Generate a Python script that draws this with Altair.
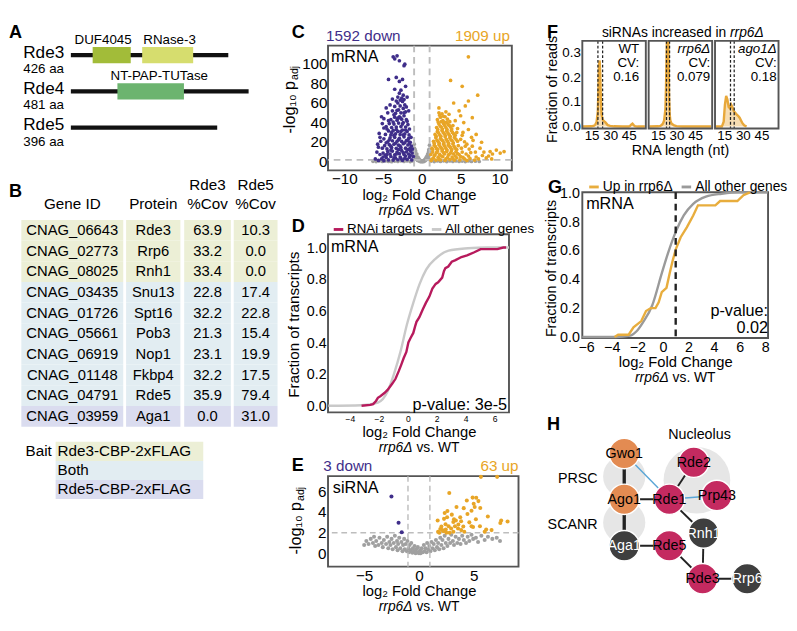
import altair as alt
import pandas as pd

FONT = "Liberation Sans"
ONE = pd.DataFrame({"k": [0]})

# ---------------- data ----------------
# A: protein architecture
prot_names = ["Rde3", "Rde4", "Rde5"]
prot_len = [426, 481, 396]
dom_prot = ["Rde3", "Rde3", "Rde4"]
dom_names = ["DUF4045", "RNase-3", "NT-PAP-TUTase"]
dom_start = [59, 193, 126]
dom_end = [162, 331, 306]

# B: IP-MS table
gene_ids = ["CNAG_06643", "CNAG_02773", "CNAG_08025", "CNAG_03435", "CNAG_01726",
            "CNAG_05661", "CNAG_06919", "CNAG_01148", "CNAG_04791", "CNAG_03959"]
proteins = ["Rde3", "Rrp6", "Rnh1", "Snu13", "Spt16", "Pob3", "Nop1", "Fkbp4", "Rde5", "Aga1"]
rde3_cov = [63.9, 33.2, 33.4, 22.8, 32.2, 21.3, 23.1, 32.2, 35.9, 0.0]
rde5_cov = [10.3, 0.0, 0.0, 17.4, 22.8, 15.4, 19.9, 17.5, 79.4, 31.0]
bait = ["Rde3", "Rde3", "Rde3", "Both", "Both", "Both", "Both", "Both", "Both", "Rde5"]
bait_keys = ["Rde3", "Both", "Rde5"]
bait_labels = ["Rde3-CBP-2xFLAG", "Both", "Rde5-CBP-2xFLAG"]

# C: mRNA volcano (log2FC, -log10 padj)
c_down = [(-5.6,1.5),(-5.2,3.0),(-4.9,1.2),(-4.6,4.5),(-4.3,2.0),(-4.0,5.5),(-3.7,1.8),(-3.4,4.0),(-3.1,2.2),(-2.8,5.0),(-2.5,1.6),(-2.2,3.8),(-1.9,2.4),(-1.6,4.6),(-1.3,2.0),(-1.1,5.5),
(-5.4,7.5),(-5.0,9.0),(-4.7,6.8),(-4.4,10.5),(-4.1,8.0),(-3.8,11.0),(-3.5,7.2),(-3.2,10.0),(-2.9,8.4),(-2.6,11.5),(-2.3,7.6),(-2.0,10.2),(-1.7,8.0),(-1.45,11.0),(-1.25,9.0),
(-5.1,14.0),(-4.8,16.5),(-4.5,13.2),(-4.2,17.5),(-3.9,14.6),(-3.6,18.0),(-3.3,13.8),(-3.0,17.0),(-2.7,14.5),(-2.4,18.5),(-2.1,14.0),(-1.8,17.2),(-1.55,13.5),(-1.35,16.0),
(-5.3,21.0),(-4.9,23.5),(-4.4,20.5),(-4.1,24.5),(-3.8,21.5),(-3.5,25.0),(-3.2,21.0),(-2.9,24.0),(-2.6,20.8),(-2.3,25.5),(-2.0,21.8),(-1.7,24.0),(-1.5,20.0),
(-5.5,29.0),(-4.7,28.0),(-4.3,31.5),(-4.0,27.5),(-3.7,32.0),(-3.4,28.5),(-3.1,31.0),(-2.8,27.8),(-2.5,32.5),(-2.2,28.5),(-1.9,31.0),(-1.65,27.5),
(-4.6,36.0),(-4.2,39.0),(-3.9,35.0),(-3.6,38.5),(-3.3,35.5),(-3.0,39.5),(-2.7,36.0),(-2.4,40.0),(-2.1,35.5),(-1.8,38.0),
(-4.9,44.0),(-4.0,43.0),(-3.5,45.5),(-3.2,42.5),(-2.9,46.0),(-2.6,43.5),(-2.3,47.0),(-2.0,43.0),
(-5.2,46.0),(-4.4,50.0),(-3.8,52.0),(-3.4,49.5),(-3.0,53.0),(-2.7,50.0),(-2.4,54.5),(-2.1,51.0),(-1.7,52.0),
(-4.6,55.0),(-3.5,56.5),(-3.1,60.0),(-2.8,57.0),(-2.5,61.5),(-2.2,58.0),(-4.1,58.0),
(-2.8,63.0),(-3.1,66.0),(-2.4,68.0),(-1.9,66.0),(-2.6,65.0),(-3.5,74.0),(-2.7,73.0),(-2.1,77.0),
(-4.3,84.0),(-3.3,86.0),(-2.9,82.0),(-2.5,84.0),(-3.7,107.0),(-3.2,108.0),(-3.5,105.0),(-2.9,103.0),(-2.3,98.0),(-2.2,99.5),
(-5.8,10.0),(-6.0,3.0),(-5.7,18.0),
(-5.0,5.0),(-4.5,7.5),(-4.0,12.0),(-3.6,4.0),(-3.3,8.0),(-3.0,12.5),(-2.7,3.5),(-2.4,9.5),(-2.1,6.0),(-1.8,12.5),(-1.5,6.5),(-1.2,13.0),
(-4.6,19.5),(-4.0,16.0),(-3.4,19.0),(-2.8,16.0),(-2.2,19.5),(-1.6,18.5),(-4.2,22.5),(-3.6,27.0),(-3.0,22.5),(-2.4,27.5),(-1.8,21.5),(-1.4,25.0),
(-4.5,33.5),(-3.9,30.0),(-3.3,33.0),(-2.7,31.0),(-2.1,32.5),(-1.6,33.5),(-4.3,42.0),(-3.7,40.5),(-3.1,44.5),(-2.5,38.5),(-1.9,41.5),
(-3.6,48.0),(-3.2,52.5),(-2.8,45.0),(-2.3,50.0),(-4.9,34.5),(-5.1,39.0),(-5.4,25.0),(-5.6,15.0),(-2.0,56.0),(-3.3,62.0),(-2.3,63.5),(-3.8,64.0),(-2.9,70.0)]
c_up = [(1.2,1.5),(1.5,4.0),(1.8,1.8),(2.1,4.8),(2.4,2.0),(2.7,5.2),(3.0,1.6),(3.3,4.4),(3.6,2.3),(3.9,5.0),(4.2,1.8),(4.5,4.2),(4.9,2.0),(5.3,4.5),(5.8,1.5),(6.2,3.5),(6.8,1.8),(7.3,3.0),
(1.15,7.5),(1.4,10.0),(1.7,7.2),(2.0,10.8),(2.3,7.6),(2.6,11.2),(2.9,8.0),(3.2,10.5),(3.5,7.4),(3.8,11.0),(4.1,8.2),(4.4,10.6),(4.8,7.5),(5.2,10.0),(5.7,8.0),(6.3,9.5),
(1.3,14.0),(1.6,17.0),(1.9,13.5),(2.2,17.5),(2.5,14.2),(2.8,18.0),(3.1,13.8),(3.4,17.2),(3.7,14.5),(4.0,18.2),(4.3,14.0),(4.7,16.5),(5.1,14.0),(5.6,16.0),(6.1,13.0),
(1.5,21.0),(1.8,24.5),(2.1,20.8),(2.4,24.0),(2.7,21.5),(3.0,25.5),(3.3,21.0),(3.6,24.5),(3.9,21.8),(4.2,25.0),(4.6,21.0),(5.0,23.0),(5.5,20.5),
(1.7,28.0),(2.0,31.0),(2.3,27.5),(2.6,32.0),(2.9,28.5),(3.2,31.5),(3.5,28.0),(3.8,32.0),(4.1,28.5),(4.5,30.0),(5.2,27.0),
(1.9,35.0),(2.2,38.5),(2.5,35.5),(2.8,39.0),(3.1,35.0),(3.4,38.0),(3.7,35.5),(4.0,37.0),(4.6,34.0),
(2.0,43.0),(2.4,45.5),(2.7,42.0),(3.0,46.0),(3.3,43.5),(3.6,41.0),(4.3,42.0),(2.2,50.0),(2.6,49.0),(3.1,51.0),(2.2,55.0),(3.5,48.5),
(3.7,83.0),(5.2,77.0),(7.2,68.0),(6.0,107.0),(6.0,62.0),(5.6,57.0),(4.8,52.0),(4.1,60.0),(6.5,45.0),(5.4,40.0),(6.0,33.0),(7.0,28.0),(6.6,22.0),(7.5,14.0),(8.0,10.0),(8.6,6.0),(9.1,8.0),(9.6,12.0),(10.1,9.0),(10.6,10.5),(8.3,4.0),(7.8,6.5),(9.0,3.0),(5.0,47.0),
(1.3,2.8),(1.6,6.5),(1.9,9.5),(2.2,2.5),(2.5,6.0),(2.8,9.5),(3.1,3.0),(3.4,7.0),(3.7,9.0),(4.0,3.2),(4.3,6.0),(4.6,8.5),(5.0,5.5),(5.5,3.0),(6.0,6.0),
(1.4,12.5),(1.75,15.5),(2.05,12.5),(2.35,15.5),(2.65,12.5),(2.95,16.0),(3.25,12.0),(3.55,16.0),(3.85,12.5),(4.15,15.8),(4.5,12.5),
(1.6,19.0),(1.95,22.0),(2.25,19.0),(2.55,22.5),(2.85,19.5),(3.15,23.0),(3.45,19.0),(3.75,22.5),(4.05,19.5),(4.4,23.0),
(1.85,26.0),(2.15,29.5),(2.45,26.0),(2.75,30.0),(3.05,26.5),(3.35,29.5),(3.65,26.0),(3.95,30.0),(4.3,27.0),
(2.05,33.0),(2.35,36.5),(2.65,33.5),(2.95,37.0),(3.25,33.0),(3.55,37.0),(3.85,33.5),(2.1,40.5),(2.5,41.0),(2.9,40.5),(3.2,40.0),(2.3,47.5),(2.8,46.5),
(5.8,18.0),(6.4,25.0),(5.3,30.0),(6.9,10.0),(7.7,20.0),(7.0,5.0),(8.8,10.5),(6.5,16.0)]
c_ns = [(-0.95,14),(-0.9,9),(-0.85,4),(-0.8,11),(-0.75,6),(-0.7,2.5),(-0.65,8),(-0.6,4),(-0.55,1.5),(-0.5,5),(-0.45,2.5),(-0.4,3.5),(-0.35,1),(-0.3,2),(-0.25,0.5),(-0.2,1.5),(-0.15,0.3),(-0.1,0.8),(0.0,0.2),(0.1,0.7),(0.15,0.2),(0.2,1.4),(0.3,0.6),(0.35,2.2),(0.4,1.2),(0.45,3.2),(0.5,1.8),(0.55,4.5),(0.6,2.5),(0.65,6),(0.7,3.5),(0.75,8),(0.8,5),(0.85,10),(0.9,6.5),(0.95,13),(-0.98,18),(0.98,17),(-0.92,6),(0.92,3),
(-0.97,10.5),(-0.88,12.5),(-0.78,8.5),(0.78,7),(0.88,12),(0.97,10),(-0.7,5),(0.68,4.5),
(-6.3,0.6),(-5.9,0.3),(-5.5,0.9),(-5.1,0.4),(-4.7,1.0),(-4.3,0.5),(-3.9,0.2),(-3.5,0.8),(-3.1,0.4),(-2.7,1.1),(-2.3,0.5),(-1.9,0.9),(-1.5,0.3),(-1.2,1.0),(1.2,0.8),(1.6,0.3),(2.0,1.0),(2.4,0.5),(2.8,1.1),(3.2,0.3),(3.6,0.9),(4.0,0.5),(4.4,1.0),(4.8,0.4),(5.2,0.8),(5.6,0.3),(6.0,0.9),(6.4,0.5),(6.9,0.7),(7.4,0.4)]

# D: CDF of log2FC (mRNA)
d_rnai_x = [-3.2,-2.6,-2.4,-2.2,-2.07,-1.9,-1.62,-1.4,-1.07,-0.85,-0.62,-0.45,-0.29,-0.1,0.04,0.2,0.38,0.5,0.6,0.8,1.04,1.25,1.49,1.7,1.93,2.1,2.38,2.5,2.6,2.8,3.04,3.3,3.71,4.1,4.6,5.04,5.3,5.7,6.2,6.6,6.8]
d_rnai_y = [0.0,0.005,0.01,0.03,0.05,0.06,0.08,0.1,0.14,0.17,0.22,0.26,0.3,0.34,0.4,0.43,0.46,0.5,0.53,0.56,0.61,0.65,0.69,0.74,0.77,0.78,0.81,0.85,0.87,0.88,0.91,0.92,0.94,0.95,0.97,0.99,0.99,0.99,0.99,1.0,1.0]
d_other_x = [-5.5,-3.2,-2.07,-1.4,-0.96,-0.51,-0.07,0.38,0.82,1.27,1.93,2.82,4.16,5.5,7.0]
d_other_y = [0.0,0.003,0.02,0.09,0.2,0.34,0.51,0.65,0.77,0.86,0.93,0.98,0.995,1.0,1.0]

# E: siRNA volcano
e_down = [(-2.51,5.5),(-1.86,2.97),(-1.57,2.05)]
e_up = [(5.66,7.41),(7.14,7.41),(2.77,5.84),(4.37,5.13),(5.23,5.38),(5.43,5.06),(5.09,4.5),(3.43,4.5),(4.09,4.38),(4.8,4.13),(4.43,3.81),(3.77,3.5),(3.0,3.75),(2.57,3.5),(2.29,3.34),(6.29,3.56),(7.51,3.19),(8.09,3.09),(3.14,3.03),(3.37,3.19),(2.43,2.81),(2.71,2.63),(2.94,2.41),(3.29,2.63),(3.57,2.41),(3.86,2.25),(2.14,2.25),(1.86,2.0),(2.51,2.0),(2.8,2.0),(3.14,2.09),(4.8,2.63),(4.94,2.56),(5.57,2.63),(6.14,2.31),(6.63,2.25),(7.43,2.94),(4.14,2.09),(1.71,3.19),
(2.35,3.9),(2.6,4.1),(3.2,3.3),(2.05,2.6),(1.95,2.35),(2.25,2.15),(3.6,2.8),(4.05,2.6),(4.6,3.0),(5.2,3.3),(5.0,4.8),(4.9,5.4),(5.6,4.4),(6.0,2.1),(3.85,3.1),(2.45,2.3),(1.75,2.1)]
e_ns = [(-5.0,0.8),(-4.8,1.2),(-4.6,0.9),(-4.4,1.4),(-4.2,1.0),(-4.0,0.7),(-4.1,1.6),
(-3.9,1.2),(-3.7,0.8),(-3.6,1.5),(-3.4,1.0),(-3.3,0.6),(-3.2,1.3),(-3.0,0.9),
(-2.9,1.6),(-2.8,0.5),(-2.7,1.1),(-2.6,0.8),(-2.5,1.4),(-2.4,0.4),(-2.3,1.0),(-2.2,1.7),(-2.1,0.6),(-2.0,1.2),
(-1.95,0.3),(-1.9,0.9),(-1.8,1.5),(-1.7,0.5),(-1.6,1.1),(-1.5,0.2),(-1.45,0.8),(-1.35,1.4),(-1.3,0.4),(-1.2,0.9),(-1.1,0.2),(-1.05,1.2),
(-0.95,0.5),(-0.9,0.1),(-0.85,0.8),(-0.75,0.3),(-0.7,1.0),(-0.6,0.05),(-0.55,0.5),(-0.45,0.2),(-0.4,0.7),(-0.3,0.0),(-0.25,0.4),(-0.15,0.1),(-0.1,0.6),(0.0,0.0),
(0.1,0.3),(0.15,0.0),(0.25,0.5),(0.35,0.1),(0.45,0.8),(0.5,0.2),(0.6,0.5),(0.7,0.1),(0.75,1.0),(0.85,0.4),(0.95,0.7),
(1.05,0.2),(1.15,1.1),(1.25,0.5),(1.35,0.9),(1.45,0.3),(1.55,1.3),(1.65,0.6),(1.75,1.0),(1.85,0.4),(1.95,1.5),
(2.05,0.8),(2.15,1.3),(2.25,0.5),(2.35,1.7),(2.45,1.0),(2.6,0.7),(2.7,1.4),(2.85,1.0),(2.95,1.8),
(3.1,1.2),(3.2,0.8),(3.35,1.6),(3.5,1.0),(3.65,1.4),(3.8,0.9),(3.95,1.7),
(4.1,1.3),(4.3,1.0),(4.45,1.6),(4.6,1.2),(4.8,1.8),(4.95,1.4),
(5.2,1.5),(5.4,1.1),(5.7,1.7),(6.0,1.3),(6.3,1.6),(6.7,1.4),(7.1,1.5),(7.4,1.2)]

# F: siRNA length distributions
f_names = ["WT", "rrp6Δ", "ago1Δ"]
f_cv = ["0.16", "0.079", "0.18"]
f_len = [
    [8, 15, 17, 18, 19, 20, 20.5, 21, 21.5, 22, 22.5, 23, 24, 25, 26, 27, 28, 30, 33, 40, 45, 46, 47, 48, 49, 50, 52, 58],
    [8, 15, 17, 18, 19, 20, 21, 21.5, 22, 22.5, 23, 23.5, 24, 24.5, 25, 26, 28, 30, 35, 45, 58],
    [8, 13, 14.5, 15.5, 16.5, 17.5, 18.5, 19.5, 20.5, 21.5, 22.5, 23.5, 24.5, 25.5, 26.5, 27.5, 28.5, 29.5, 31, 33],
]
f_frac = [
    [0, 0.001, 0.004, 0.008, 0.018, 0.06, 0.15, 0.25, 0.27, 0.22, 0.11, 0.05, 0.028, 0.022, 0.018, 0.012, 0.006, 0.003, 0.001, 0, 0, 0.002, 0.008, 0.012, 0.006, 0.002, 0, 0],
    [0, 0.001, 0.003, 0.006, 0.012, 0.025, 0.07, 0.16, 0.3, 0.42, 0.45, 0.32, 0.12, 0.05, 0.025, 0.012, 0.005, 0.002, 0, 0, 0],
    [0, 0, 0.02, 0.09, 0.125, 0.11, 0.08, 0.075, 0.09, 0.08, 0.065, 0.058, 0.052, 0.047, 0.042, 0.035, 0.025, 0.015, 0.005, 0],
]
f_marks = [[20.1, 23.9], [21.9, 24.4], [20.0, 23.0]]

# G: CDF of log2FC for genes with increased siRNAs
g_up_x = [-3.78,-3.5,-2.68,-2.3,-1.69,-1.32,-0.95,-0.58,-0.33,-0.09,0.28,0.53,0.77,1.02,1.39,1.88,2.37,2.74,4.1,4.47,5.82,6.3,6.8]
g_up_y = [0.0,0.016,0.016,0.067,0.11,0.18,0.2,0.2,0.24,0.31,0.34,0.44,0.53,0.61,0.69,0.76,0.84,0.91,0.91,0.94,0.94,0.98,1.0]
g_other_x = [-6.3,-3.7,-2.55,-2.06,-1.57,-0.83,-0.09,0.4,1.02,1.63,2.37,3.36,4.6,6.0,8.2]
g_other_y = [0.0,0.0,0.01,0.04,0.1,0.22,0.44,0.58,0.73,0.84,0.92,0.97,0.99,1.0,1.0]

# H: interaction network (layout units)
node_names = ["Gwo1", "Ago1", "Aga1", "Rde1", "Rde2", "Prp43", "Rnh1", "Rde5", "Rde3", "Rrp6"]
node_x = [4.4, 4.4, 4.4, 9.13, 11.7, 14.13, 12.73, 9.13, 12.63, 17.3]
node_y = [5.43, 10.23, 15.1, 10.23, 6.33, 9.83, 13.77, 15.1, 18.57, 18.57]
node_group = ["orange", "orange", "dark", "crimson", "crimson", "crimson", "dark", "crimson", "crimson", "dark"]
edges = [("Gwo1", "Ago1", "thick"), ("Ago1", "Aga1", "thick"), ("Ago1", "Rde1", "thin"),
         ("Gwo1", "Rde1", "blue"), ("Rde1", "Rde2", "thin"), ("Rde1", "Prp43", "blue"),
         ("Rde1", "Rnh1", "thin"), ("Aga1", "Rde5", "thin"), ("Rde5", "Rde3", "thin"),
         ("Rnh1", "Rde3", "thin"), ("Rde3", "Rrp6", "thin")]
cplx_names = ["PRSC", "SCANR", "Nucleolus"]
cplx_x = [4.4, 4.4, 12.03]
cplx_y = [7.83, 12.67, 8.23]
cplx_big = [False, False, True]
cplx_lab_x = [1.6, 1.6, 12.3]
cplx_lab_y = [8.0, 12.8, 3.4]

# ---------------- styles ----------------
PURPLE = "#3F2E8A"
ORANGE = "#E8A526"
PT_GRAY = "#A0A0A0"
GUIDE = "#BDBDBD"
FRAME = "#555555"
CRIMSON = "#B71A5C"
LIGHT_GRAY = "#C9C9C9"
G_ORANGE = "#E8AD3D"
G_GRAY = "#9A9A9A"
F_LINE = "#E8A83A"
F_FILL = "#F7DDB2"
DOM_COLORS = ["#A2BC39", "#D6DD6E", "#6CB46F"]
DOM_LABEL_SHIFT = [-9, 2, 9]
BAIT_COLORS = ["#ECEFD6", "#E2EDF2", "#DADCEF"]
NODE_COLORS = {"orange": "#E38B52", "crimson": "#C42A60", "dark": "#3F3F3F"}
NODE_TEXT = {"orange": "black", "crimson": "black", "dark": "white"}
EDGE_STYLE = {"thick": ("#222222", 3.5), "thin": ("#222222", 2), "blue": ("#5AA6D6", 1.5)}
BG_CIRCLE = "#E6E6E6"
NOVIEW = alt.ViewBackground(stroke="transparent")
PT_SIZE_C = 15
NODE_AREA = 1018


def T(s, x, y, size=15, align="center", baseline="middle", color="black",
      weight="normal", style="normal", angle=0):
    kw = dict(text=s, align=align, baseline=baseline, fontSize=size, color=color,
              fontWeight=weight, fontStyle=style, font=FONT)
    if angle:
        kw["angle"] = angle
    return alt.Chart(ONE).mark_text(**kw).encode(x=alt.value(x), y=alt.value(y))


def sub(xc, y, size=14.5):
    a = xc - 0.5 * size
    return [T("rrp6Δ", a, y, size, align="right", style="italic"),
            T("vs. WT", a + 0.28 * size, y, size, align="left")]


def padj_title(x, yc, size=17):
    a = yc - 20 * size / 17
    return [T("-log₁₀ p", x, a, size, align="right", angle=270),
            T("adj", x + 5, a - 1, size * 0.65, align="left", angle=270)]


def letter(s, x, y):
    return T(s, x, y, 19, align="left", baseline="top", weight="bold")


# ---------------- A ----------------
A_W, A_H = 269, 172
A_PXAA = 0.388
a_xdom = [-52 / A_PXAA, (A_W - 52) / A_PXAA]
a_ydom = [-15 / 38, (A_H - 15) / 38]


def ax(f):
    return alt.X(f, type="quantitative", scale=alt.Scale(domain=a_xdom, nice=False, zero=False), axis=None)


def ay(f):
    return alt.Y(f, type="quantitative", scale=alt.Scale(domain=a_ydom, nice=False, zero=False, reverse=True), axis=None)


prot_df = pd.DataFrame({"name": prot_names, "len": prot_len, "row": list(range(3)), "zero": 0})
prot_df["aa"] = [f"{v} aa" for v in prot_len]
dom_df = pd.DataFrame({"name": dom_names, "start": dom_start, "end": dom_end,
                       "row": [prot_names.index(p) for p in dom_prot]})
dom_df["y1"] = dom_df["row"] - 0.224
dom_df["y2"] = dom_df["row"] + 0.224
dom_df["lx"] = (dom_df["start"] + dom_df["end"]) / 2 + pd.Series(DOM_LABEL_SHIFT) / A_PXAA

chartA = alt.layer(
    alt.Chart(prot_df).mark_rule(color="#111111", strokeWidth=4.5).encode(x=ax("zero"), x2="len:Q", y=ay("row")),
    alt.Chart(dom_df).mark_rect().encode(
        x=ax("start"), x2="end:Q", y=ay("y1"), y2="y2:Q",
        color=alt.Color("name:N", scale=alt.Scale(domain=dom_names, range=DOM_COLORS), legend=None)),
    alt.Chart(dom_df).mark_text(fontSize=14, dy=-16, font=FONT).encode(x=ax("lx"), y=ay("row"), text="name:N"),
    alt.Chart(prot_df).mark_text(fontSize=18, align="left", dy=-2, font=FONT).encode(x=alt.value(2), y=ay("row"), text="name:N"),
    alt.Chart(prot_df).mark_text(fontSize=14, align="left", dy=15, font=FONT).encode(x=alt.value(2), y=ay("row"), text="aa:N"),
    letter("A", -13, -18),
).properties(width=A_W, height=A_H, view=NOVIEW)

# ---------------- B table ----------------
B_W, B_H = 269, 217
TABLE_COLS = [(0, 107), (110, 167), (171, 220), (223, 269)]
cells = []
for i, g in enumerate(gene_ids):
    vals = [g, proteins[i], f"{rde3_cov[i]:.1f}", f"{rde5_cov[i]:.1f}"]
    for j, (l, r) in enumerate(TABLE_COLS):
        cells.append(dict(gene=g, bait=bait[i], c0=l, c1=r, xc=(l + r) / 2, txt=vals[j]))
cells_df = pd.DataFrame(cells)
hdr_df = pd.DataFrame({"xc": [(l + r) / 2 for l, r in TABLE_COLS],
                       "h1": ["", "", "Rde3", "Rde5"],
                       "h2": ["Gene ID", "Protein", "%Cov", "%Cov"]})
bxs = alt.Scale(domain=[0, B_W], nice=False, zero=False)
by = alt.Y("gene:N", sort=gene_ids, scale=alt.Scale(paddingInner=0, paddingOuter=0), axis=None)
chartB = alt.layer(
    alt.Chart(cells_df).mark_rect().encode(
        x=alt.X("c0:Q", scale=bxs, axis=None), x2="c1:Q", y=by,
        color=alt.Color("bait:N", scale=alt.Scale(domain=bait_keys, range=BAIT_COLORS), legend=None)),
    alt.Chart(cells_df).mark_text(fontSize=15.5, font=FONT).encode(
        x=alt.X("xc:Q", scale=bxs, axis=None), y=by, text="txt:N"),
    alt.Chart(hdr_df).mark_text(fontSize=16, font=FONT).encode(
        x=alt.X("xc:Q", scale=bxs, axis=None), y=alt.value(-36), text="h1:N"),
    alt.Chart(hdr_df).mark_text(fontSize=16, font=FONT).encode(
        x=alt.X("xc:Q", scale=bxs, axis=None), y=alt.value(-17), text="h2:N"),
    letter("B", -13, -39),
).properties(width=B_W, height=B_H, view=NOVIEW)

leg_df = pd.DataFrame({"key": bait_keys, "label": bait_labels})
ly = alt.Y("key:N", sort=bait_keys, scale=alt.Scale(paddingInner=0, paddingOuter=0), axis=None)
chartL = alt.layer(
    alt.Chart(leg_df).mark_rect().encode(
        x=alt.value(36), x2=alt.value(191), y=ly,
        color=alt.Color("key:N", scale=alt.Scale(domain=bait_keys, range=BAIT_COLORS), legend=None)),
    alt.Chart(leg_df).mark_text(fontSize=16, align="left", font=FONT).encode(x=alt.value(38), y=ly, text="label:N"),
    T("Bait", 32, 10, 16, align="right"),
).properties(width=269, height=60, view=NOVIEW)

col1 = alt.vconcat(chartA, chartB, chartL, spacing=16, bounds="flush").resolve_scale(color="independent")


# ---------------- C ----------------
def pts(lst):
    return pd.DataFrame(lst, columns=["lfc", "nlp"])


C_W, C_H = 193, 131
cx = alt.X("lfc:Q", scale=alt.Scale(domain=[-12.1, 11.6], nice=False, zero=False),
           axis=alt.Axis(values=[-10, -5, 0, 5, 10], labelFontSize=16, labelPadding=1, title=None))
cy = alt.Y("nlp:Q", scale=alt.Scale(domain=[-8.7, 118.4], nice=False, zero=False),
           axis=alt.Axis(values=[0, 20, 40, 60, 80, 100], labelFontSize=16, labelPadding=1, title=None))
chartC = alt.layer(
    alt.Chart(pts(c_ns)).mark_circle(size=PT_SIZE_C, color=PT_GRAY, opacity=1).encode(x=cx, y=cy),
    alt.Chart(pd.DataFrame({"lfc": [-1, 1]})).mark_rule(color=GUIDE, strokeDash=[7, 5], strokeWidth=2).encode(x=cx),
    alt.Chart(pd.DataFrame({"nlp": [2]})).mark_rule(color=GUIDE, strokeDash=[7, 5], strokeWidth=2).encode(y=cy),
    alt.Chart(pts(c_down)).mark_circle(size=PT_SIZE_C, color=PURPLE, opacity=1).encode(x=cx, y=cy),
    alt.Chart(pts(c_up)).mark_circle(size=PT_SIZE_C, color=ORANGE, opacity=1).encode(x=cx, y=cy),
    letter("C", -38, -23),
    T("1592 down", -2, -10, 16, align="left", color=PURPLE),
    T("1909 up", 191, -10, 16, align="right", color=ORANGE),
    T("mRNA", 3, 12, 17, align="left"),
    T("log₂ Fold Change", 96, 157, 15.5),
    *sub(96, 174),
    *padj_title(-40, 57),
).properties(width=C_W, height=C_H)

# ---------------- D ----------------
D_W, D_H = 190, 187
dxe = alt.X("lfc:Q", scale=alt.Scale(domain=[-5.52, 7.0], nice=False, zero=False),
            axis=alt.Axis(values=[-4, -2, 0, 2, 4, 6], labelFontSize=9, labelPadding=3, title=None))
dye = alt.Y("frac:Q", scale=alt.Scale(domain=[-0.042, 1.084], nice=False, zero=False),
            axis=alt.Axis(values=[0, 0.2, 0.4, 0.6, 0.8, 1.0], format=".1f", labelFontSize=15, labelPadding=2, title=None))
d_series = ["RNAi targets", "All other genes"]
dcol = alt.Color("series:N", scale=alt.Scale(domain=d_series, range=[CRIMSON, LIGHT_GRAY]),
                 legend=alt.Legend(orient="none", legendX=4, legendY=-12, direction="horizontal", columns=2,
                                   title=None, symbolType="stroke", symbolStrokeWidth=3, symbolSize=100,
                                   labelFontSize=14, labelOffset=2, columnPadding=3, padding=0, labelFont=FONT))
d_other = pd.DataFrame({"lfc": d_other_x, "frac": d_other_y, "series": d_series[1]})
d_rnai = pd.DataFrame({"lfc": d_rnai_x, "frac": d_rnai_y, "series": d_series[0]})
chartD = alt.layer(
    alt.Chart(d_other).mark_line(strokeWidth=2.5, interpolate="monotone").encode(x=dxe, y=dye, color=dcol),
    alt.Chart(d_rnai).mark_line(strokeWidth=2.5).encode(x=dxe, y=dye, color=dcol),
    alt.Chart(ONE).mark_rect(color="white").encode(x=alt.value(86), x2=alt.value(189), y=alt.value(173), y2=alt.value(186)),
    T("p-value: 3e-5", 188, 180, 17, align="right"),
    T("mRNA", 3, 14, 17, align="left"),
    letter("D", -38, -17),
    T("Fraction of transcripts", -35, 95, 16, angle=270),
    T("log₂ Fold Change", 96, 208, 15.5),
    *sub(96, 225),
).properties(width=D_W, height=D_H)

# ---------------- E ----------------
E_W, E_H = 200, 95
ex = alt.X("lfc:Q", scale=alt.Scale(domain=[-8.3, 9.09], nice=False, zero=False),
           axis=alt.Axis(values=[-5, 0, 5], labelFontSize=16, labelPadding=2, title=None))
ey = alt.Y("nlp:Q", scale=alt.Scale(domain=[-1.29, 7.48], nice=False, zero=False),
           axis=alt.Axis(values=[0, 2, 4, 6], labelFontSize=16, labelPadding=2, title=None))
chartE = alt.layer(
    alt.Chart(pts(e_ns)).mark_circle(size=18, color=PT_GRAY, opacity=1).encode(x=ex, y=ey),
    alt.Chart(pd.DataFrame({"lfc": [-1, 1]})).mark_rule(color=GUIDE, strokeDash=[6, 4], strokeWidth=1.5).encode(x=ex),
    alt.Chart(pd.DataFrame({"nlp": [2]})).mark_rule(color=GUIDE, strokeDash=[6, 4], strokeWidth=1.5).encode(y=ey),
    alt.Chart(pts(e_down)).mark_circle(size=18, color=PURPLE, opacity=1).encode(x=ex, y=ey),
    alt.Chart(pts(e_up)).mark_circle(size=18, color=ORANGE, opacity=1).encode(x=ex, y=ey),
    letter("E", -38, -20),
    T("3 down", -5, -10, 16, align="left", color=PURPLE),
    T("63 up", 200, -10, 16, align="right", color=ORANGE),
    T("siRNA", 5, 13, 17, align="left"),
    *padj_title(-33, 47),
    T("log₂ Fold Change", 96, 121, 15.5),
    *sub(96, 138),
).properties(width=E_W, height=E_H)

spacer = alt.Chart(ONE).mark_point(opacity=0).encode(x=alt.value(0), y=alt.value(0)).properties(
    width=1, height=5, view=NOVIEW)
col2 = alt.vconcat(
    spacer,
    alt.vconcat(chartC, chartD, chartE, spacing=67, bounds="flush").resolve_scale(color="independent"),
    spacing=0, bounds="flush").resolve_scale(color="independent")

# ---------------- F ----------------
F_W, F_H = 206, 92
F_LO, F_HI, F_PER = 7.5, 58.8, 53.6
F_PXNT = F_W / (F_HI - F_LO + 2 * F_PER)
f_rows = []
for k in range(3):
    for l, v in zip(f_len[k], f_frac[k]):
        f_rows.append(dict(panel=k, len=l, frac=v))
f_df = pd.DataFrame(f_rows)
fm_df = pd.DataFrame([dict(panel=k, len=p) for k in range(3) for p in f_marks[k]])
fr_df = pd.DataFrame({"panel": [0, 1, 2], "len": [F_LO] * 3, "len2": [F_HI] * 3})
TEXT_INSET_PX = [7, 2, 2]
ft_df = pd.DataFrame({"panel": [0, 1, 2], "name": f_names, "cv": f_cv, "cvl": ["CV:"] * 3,
                      "len": [F_HI - TEXT_INSET_PX[k] / F_PXNT for k in range(3)]})
xcalc = f"datum.len + datum.panel * {F_PER}"
tick_vals = [v + k * F_PER for k in range(3) for v in (15, 30, 45)]
fx = alt.X("xp:Q", scale=alt.Scale(domain=[F_LO, F_HI + 2 * F_PER], nice=False, zero=False),
           axis=alt.Axis(values=tick_vals, labelExpr=f"round(datum.value - {F_PER}*floor((datum.value - {F_LO})/{F_PER}))",
                         labelFontSize=14, labelPadding=1, title=None))
fy = alt.Y("frac:Q", scale=alt.Scale(domain=[-0.008, 0.35], nice=False, zero=False), stack=None,
           axis=alt.Axis(values=[0, 0.1, 0.2, 0.3], format=".1f", labelFontSize=14, labelPadding=2, title=None))
FT_SIZE = 14
chartF = alt.layer(
    alt.Chart(f_df).transform_calculate(xp=xcalc).mark_area(color=F_FILL, clip=True).encode(
        x=fx, y=fy, y2=alt.datum(0), detail="panel:N"),
    alt.Chart(f_df).transform_calculate(xp=xcalc).mark_line(color=F_LINE, strokeWidth=2.5, clip=True).encode(
        x=fx, y=fy, detail="panel:N"),
    alt.Chart(fm_df).transform_calculate(xp=xcalc).mark_rule(color="#222222", strokeDash=[3, 2], strokeWidth=1.3).encode(x=fx),
    alt.Chart(ft_df.iloc[:1]).transform_calculate(xp=xcalc).mark_text(fontSize=FT_SIZE, align="right", font=FONT).encode(
        x=fx, y=alt.value(8.5), text="name:N"),
    alt.Chart(ft_df.iloc[1:]).transform_calculate(xp=xcalc).mark_text(fontSize=FT_SIZE, align="right", fontStyle="italic", font=FONT).encode(
        x=fx, y=alt.value(8.5), text="name:N"),
    alt.Chart(ft_df).transform_calculate(xp=xcalc).mark_text(fontSize=FT_SIZE, align="right", font=FONT).encode(
        x=fx, y=alt.value(23.5), text="cvl:N"),
    alt.Chart(ft_df).transform_calculate(xp=xcalc).mark_text(fontSize=FT_SIZE, align="right", font=FONT).encode(
        x=fx, y=alt.value(38.5), text="cv:N"),
    alt.Chart(fr_df).transform_calculate(xp=xcalc, xp2=f"datum.len2 + datum.panel * {F_PER}").mark_rect(
        filled=False, color=FRAME, strokeWidth=2).encode(x=fx, x2="xp2:Q", y=alt.value(0), y2=alt.value(F_H)),
    letter("F", -37, -18),
    T("siRNAs increased in", 151, -8, 14.5, align="right"),
    T("rrp6Δ", 155, -8, 14.5, align="left", style="italic"),
    T("Fraction of reads", -32, 51, 15, angle=270),
    T("RNA length (nt)", 103, 115, 15),
).properties(width=F_W, height=F_H, view=NOVIEW)

# ---------------- G ----------------
G_W, G_H = 195, 153
gx = alt.X("lfc:Q", scale=alt.Scale(domain=[-6.3, 8.22], nice=False, zero=False),
           axis=alt.Axis(values=[-6, -4, -2, 0, 2, 4, 6, 8], labelFontSize=15, labelPadding=2, title=None))
gy = alt.Y("frac:Q", scale=alt.Scale(domain=[-0.007, 1.0], nice=False, zero=False),
           axis=alt.Axis(values=[0, 0.2, 0.4, 0.6, 0.8, 1.0], format=".1f", labelFontSize=15, labelPadding=3, title=None))
g_series = ["Up in rrp6Δ", "All other genes"]
gcol = alt.Color("series:N", scale=alt.Scale(domain=g_series, range=[G_ORANGE, G_GRAY]),
                 legend=alt.Legend(orient="none", legendX=5, legendY=-13, direction="horizontal", columns=2,
                                   title=None, symbolType="stroke", symbolStrokeWidth=3, symbolSize=100,
                                   labelFontSize=14.5, labelOffset=2, columnPadding=3, padding=0, labelFont=FONT))
g_other = pd.DataFrame({"lfc": g_other_x, "frac": g_other_y, "series": g_series[1]})
g_up = pd.DataFrame({"lfc": g_up_x, "frac": g_up_y, "series": g_series[0]})
chartG = alt.layer(
    alt.Chart(g_other).mark_line(strokeWidth=2.5, interpolate="monotone").encode(x=gx, y=gy, color=gcol),
    alt.Chart(g_up).mark_line(strokeWidth=2.5).encode(x=gx, y=gy, color=gcol),
    alt.Chart(pd.DataFrame({"lfc": [1]})).mark_rule(color="#222222", strokeDash=[7, 5], strokeWidth=2.5).encode(x=gx),
    T("mRNA", 4, 13, 17, align="left"),
    T("p-value:", 195, 125, 17, align="right"),
    T("0.02", 195, 143, 17, align="right"),
    letter("G", -36, -14),
    T("Fraction of transcripts", -33, 80, 15, angle=270),
    T("log₂ Fold Change", 98, 178, 15.5),
    *sub(98, 195),
).properties(width=G_W, height=G_H)

# ---------------- H ----------------
H_W, H_H = 200, 220


def hx(f):
    return alt.X(f, type="quantitative", scale=alt.Scale(domain=[0, 20], nice=False, zero=False), axis=None)


def hy(f):
    return alt.Y(f, type="quantitative", scale=alt.Scale(domain=[0, 22], nice=False, zero=False, reverse=True), axis=None)


node_df = pd.DataFrame({"name": node_names, "x": node_x, "y": node_y, "grp": node_group})
pos = dict(zip(node_names, zip(node_x, node_y)))
edge_df = pd.DataFrame(edges, columns=["a", "b", "kind"])
edge_df["x1"] = [pos[a][0] for a in edge_df["a"]]
edge_df["y1"] = [pos[a][1] for a in edge_df["a"]]
edge_df["x2"] = [pos[b][0] for b in edge_df["b"]]
edge_df["y2"] = [pos[b][1] for b in edge_df["b"]]
cplx_df = pd.DataFrame({"name": cplx_names, "x": cplx_x, "y": cplx_y, "big": cplx_big,
                        "lx": cplx_lab_x, "ly": cplx_lab_y})

h_layers = [
    alt.Chart(cplx_df[~cplx_df["big"]]).mark_circle(size=1963, color=BG_CIRCLE, opacity=1).encode(x=hx("x"), y=hy("y")),
    alt.Chart(cplx_df[cplx_df["big"]]).mark_circle(size=4900, color=BG_CIRCLE, opacity=1).encode(x=hx("x"), y=hy("y")),
]
for kind, (col, w) in EDGE_STYLE.items():
    h_layers.append(alt.Chart(edge_df[edge_df["kind"] == kind]).mark_rule(color=col, strokeWidth=w).encode(
        x=hx("x1"), y=hy("y1"), x2="x2:Q", y2="y2:Q"))
for grp, col in NODE_COLORS.items():
    sub_df = node_df[node_df["grp"] == grp]
    h_layers.append(alt.Chart(sub_df).mark_circle(size=NODE_AREA, color=col, opacity=1, stroke="white", strokeWidth=1.5).encode(
        x=hx("x"), y=hy("y")))
    h_layers.append(alt.Chart(sub_df).mark_text(fontSize=15, color=NODE_TEXT[grp], font=FONT).encode(
        x=hx("x"), y=hy("y"), text="name:N"))
h_layers.append(alt.Chart(cplx_df[cplx_df["big"]]).mark_text(fontSize=15, font=FONT).encode(
    x=hx("lx"), y=hy("ly"), text="name:N"))
h_layers.append(alt.Chart(cplx_df[~cplx_df["big"]]).mark_text(fontSize=15, align="right", font=FONT).encode(
    x=hx("lx"), y=hy("ly"), text="name:N"))
h_layers.append(letter("H", -37, 15))
chartH = alt.layer(*h_layers).properties(width=H_W, height=H_H, view=NOVIEW)

col3 = alt.vconcat(chartF, chartG, chartH, spacing=67, bounds="flush").resolve_scale(color="independent")

right = alt.hconcat(col2, col3, spacing=7).resolve_scale(color="independent")
chart = alt.hconcat(col1, right, spacing=2).resolve_scale(color="independent").properties(padding=0)
chart = chart.configure(font=FONT).configure_view(stroke=FRAME, strokeWidth=2).configure_axis(
    grid=False, domain=False, ticks=False, labelFont=FONT, labelColor="black").configure_text(font=FONT)

chart.save("out.html", embed_options={"renderer": "svg", "actions": False})
